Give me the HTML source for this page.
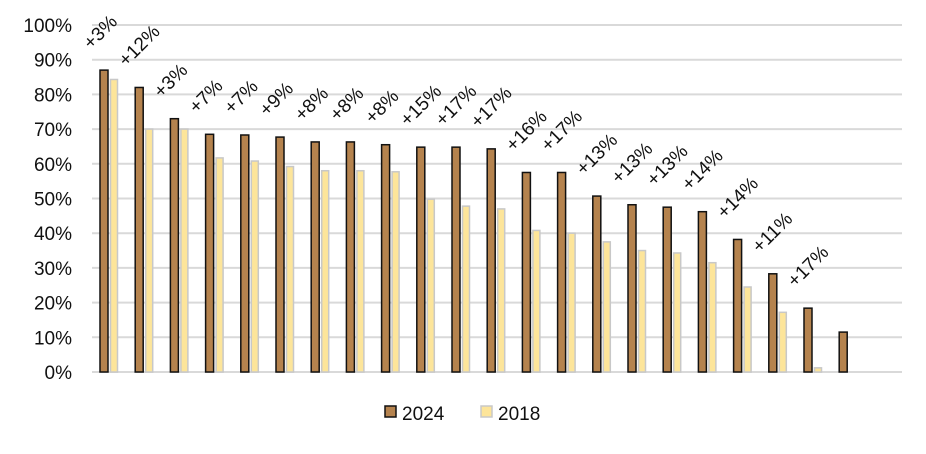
<!DOCTYPE html>
<html><head><meta charset="utf-8"><style>
body{margin:0;background:#fff;font-family:"Liberation Sans",sans-serif}
</style></head><body>
<svg width="926" height="449" xmlns="http://www.w3.org/2000/svg">
<g id="grid"></g>
<g id="ylab"></g>
<g id="bars"></g>
<g id="labs"></g>
<g>
<rect x="385" y="406" width="11" height="11" fill="#b5834e" stroke="#111" stroke-width="1.5"/>
<text x="402" y="420" font-size="19" fill="#111">2024</text>
<rect x="481" y="406" width="11" height="11" fill="#fde59a" stroke="#c8c8c8" stroke-width="1.5"/>
<text x="498" y="420" font-size="19" fill="#111">2018</text>
</g>
</svg>
<script>
const v2024=[87,82,73,68.5,68.3,67.7,66.3,66.3,65.5,64.8,64.8,64.3,57.5,57.5,50.7,48.2,47.5,46.2,38.2,28.3,18.4,11.5];
const v2018=[84.3,70,70,61.7,60.8,59.2,58,58,57.7,49.8,47.8,47,40.8,40,37.5,35,34.3,31.5,24.5,17.2,1.2,null];
const changes=[3,12,3,7,7,9,8,8,8,15,17,17,16,17,13,13,13,14,14,11,17];
const ticks=[0,10,20,30,40,50,60,70,80,90,100];
const NS="http://www.w3.org/2000/svg";
const y=p=>372-p*3.47;
const x=i=>100+i*35.2;
function mk(t,a,parent){const e=document.createElementNS(NS,t);for(const k in a)e.setAttribute(k,a[k]);document.getElementById(parent).appendChild(e);return e;}
ticks.forEach(t=>{
 const l=mk('line',{x1:92,x2:902,y1:y(t),y2:y(t),stroke:'#d9d9d9','stroke-width':2},'grid');
 
 
 const tx=mk('text',{x:72,y:y(t)+7,'text-anchor':'end','font-size':19,fill:'#111'},'ylab');
 tx.textContent=t+'%';
 
 
});
v2024.forEach((v,i)=>{
 const b=mk('rect',{x:x(i),y:y(v),width:8,height:y(0)-y(v),fill:'#b5834e',stroke:'#111','stroke-width':1.5},'bars');
 
 
 const w=v2018[i];
 if(w!=null){
  const c=mk('rect',{x:x(i)+10.5,y:y(w),width:7,height:y(0)-y(w),fill:'#fde59a',stroke:'#c8c8c8','stroke-width':1.5},'bars');
  
  
 }
 if(i<changes.length){
  const lx=x(i)-9, ly=y(v)-20;
  const t=mk('text',{x:lx,y:ly,'font-size':19,fill:'#111',transform:`rotate(-45 ${lx} ${ly})`},'labs');
  t.textContent='+'+changes[i]+'%';
  
  
 }
});
</script>
</body></html>
